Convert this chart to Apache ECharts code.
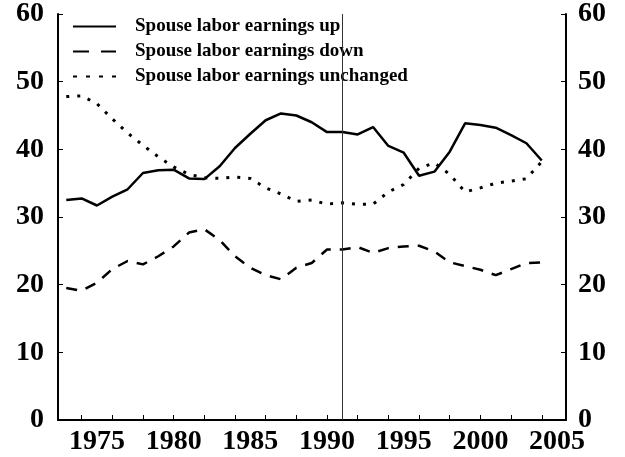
<!DOCTYPE html>
<html lang="en">
<head>
    <meta charset="UTF-8">
    <script src="https://cdn.jsdelivr.net/npm/echarts@6/dist/echarts.min.js"></script>
    <title>Spouse labor earnings</title>
    <style>
      html, body { margin: 0; padding: 0; background: #fff; }
      #main { width: 625px; height: 457px; }
    </style>
</head>
<body>
  <div id="main"></div>
  <script>
    // data, one value per year 1973-2004
    var years = [];
    for (var y = 1973; y <= 2004; y++) years.push(y);

    var earningsUp = [32.5, 32.75, 31.7, 33.0, 34.1, 36.5, 36.9, 37.0, 35.7, 35.6, 37.5, 40.2, 42.3, 44.3, 45.3, 45.0,
                      44.0, 42.55, 42.55, 42.2, 43.3, 40.5, 39.5, 36.1, 36.7, 39.65, 43.85, 43.6, 43.2, 42.1, 40.9, 38.35];
    var earningsDown = [19.5, 19.1, 20.3, 22.3, 23.5, 23.0, 24.2, 25.65, 27.7, 28.2, 26.6, 24.2, 22.5, 21.4, 20.8, 22.5,
                        23.2, 25.2, 25.2, 25.55, 24.7, 25.4, 25.65, 25.75, 24.9, 23.3, 22.75, 22.2, 21.4, 22.3, 23.2, 23.3];
    var earningsSame = [47.8, 47.9, 46.75, 44.5, 42.4, 40.6, 38.9, 37.4, 36.3, 35.8, 35.7, 35.9, 35.7, 34.3, 33.4, 32.3,
                        32.5, 31.9, 32.1, 31.9, 31.9, 33.7, 34.8, 37.2, 38.0, 36.3, 33.7, 34.3, 35.0, 35.3, 35.65, 38.2];

    var tickYears = [1974, 1976, 1978, 1980, 1982, 1984, 1986, 1988, 1990, 1992, 1994, 1996, 1998, 2000, 2002, 2004];
    var labelYears = [1975, 1980, 1985, 1990, 1995, 2000, 2005];
    var markYear = 1991;

    var font = 'Liberation Serif';
    var chart = echarts.init(document.getElementById('main'));

    function pairs(vals) {
      return years.map(function (yr, i) { return [yr, vals[i]]; });
    }

    function yAxis(pos, margin) {
      return {
        type: 'value', position: pos, min: 0, max: 60, interval: 10,
        axisLine: { show: true, lineStyle: { color: '#000', width: 2 } },
        axisTick: { show: true, inside: true, length: 5, lineStyle: { color: '#000', width: 1 } },
        splitLine: { show: false },
        axisLabel: { margin: margin, color: '#000', fontFamily: font, fontWeight: 'bold', fontSize: 28, padding: [0, 0, 5, 0] }
      };
    }

    var lineBase = { type: 'line', showSymbol: false, symbol: 'none', smooth: false };

    chart.setOption({
      animation: false,
      grid: { left: 58, right: 59, top: 6, bottom: 37 },
      legend: {
        orient: 'vertical', left: 67, top: 12,
        itemWidth: 43, itemHeight: 14, itemGap: 6,
        itemStyle: { opacity: 0 },
        textStyle: { color: '#000', fontFamily: font, fontWeight: 'bold', fontSize: 19, padding: [0, 0, 0, 14] },
        data: [
          { name: 'Spouse labor earnings up' },
          { name: 'Spouse labor earnings down', lineStyle: { type: [16, 12] } },
          { name: 'Spouse labor earnings unchanged', lineStyle: { type: [4, 9] } }
        ]
      },
      xAxis: {
        type: 'value', min: 1972.46, max: 2005.58,
        axisLine: { show: true, lineStyle: { color: '#000', width: 2 } },
        axisTick: { show: true, inside: true, length: 5, customValues: tickYears, lineStyle: { color: '#000', width: 1 } },
        splitLine: { show: false },
        axisLabel: {
          customValues: labelYears, margin: 8, color: '#000',
          fontFamily: font, fontWeight: 'bold', fontSize: 28,
          formatter: function (v) { return String(v); }
        }
      },
      yAxis: [yAxis('left', 14), yAxis('right', 12)],
      series: [
        Object.assign({}, lineBase, {
          name: 'Spouse labor earnings up',
          data: pairs(earningsUp),
          lineStyle: { color: '#000', width: 2.5, type: 'solid' },
          itemStyle: { color: '#000' },
          markLine: {
            silent: true, symbol: 'none', label: { show: false },
            lineStyle: { color: '#333', width: 1, type: 'solid' },
            data: [{ xAxis: markYear }]
          }
        }),
        Object.assign({}, lineBase, {
          name: 'Spouse labor earnings down',
          data: pairs(earningsDown),
          lineStyle: { color: '#000', width: 2.5, type: [11, 9], cap: 'butt' },
          itemStyle: { color: '#000' }
        }),
        Object.assign({}, lineBase, {
          name: 'Spouse labor earnings unchanged',
          data: pairs(earningsSame),
          lineStyle: { color: '#000', width: 3, type: [3, 8], cap: 'butt' },
          itemStyle: { color: '#000' }
        })
      ]
    });
  </script>
</body>
</html>
